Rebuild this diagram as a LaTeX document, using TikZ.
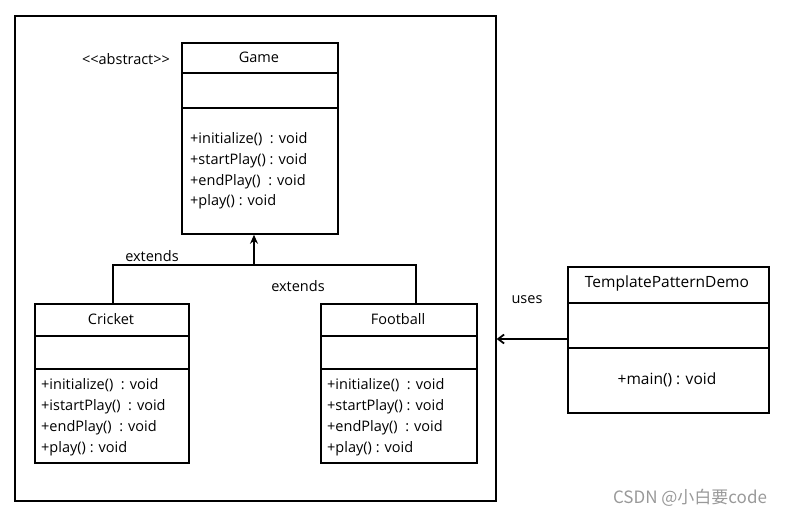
\documentclass[tikz,border=0pt]{standalone}
\usepackage{fontspec}
\setmainfont{Open Sans}
\newfontfamily\cjkfont{Noto Sans CJK SC}
\usetikzlibrary{arrows.meta}
\tikzset{
  classbox/.style={draw=black, line width=1.8pt, fill=white, anchor=north west, inner sep=0pt},
  sepline/.style={draw=black, line width=1.8pt},
  lbl/.style={font=\fontsize{14.5}{17}\selectfont, inner sep=0pt},
  meth/.style={font=\fontsize{14.5}{20.7}\selectfont, align=left, inner sep=0pt, anchor=base west},
  conn/.style={draw=black, line width=2pt},
}
\begin{document}
\begin{tikzpicture}[x=1pt,y=-1pt]
\useasboundingbox (0,0) rectangle (788,516);
% frame
\node[draw=black, line width=1.6pt, anchor=north west, minimum width=481pt, minimum height=485pt, inner sep=0pt] (frame) at (14,15) {};
% Game
\node[classbox, minimum width=156pt, minimum height=191pt] (game) at (181,42) {};
\draw[sepline] (181,73) -- (337,73);
\draw[sepline] (181,108) -- (337,108);
\node[lbl] (gamet) at (259,57) {Game};
\node[lbl] (abs) at (126,59) {{<}{<}abstract{>}{>}};
\node[meth] (gamem) at (190,206) {+initialize()\ \ : void\\+startPlay() : void\\+endPlay()\ \ : void\\+play() : void};
% Cricket
\node[classbox, minimum width=154pt, minimum height=159pt] (cricket) at (34,303) {};
\draw[sepline] (34,336) -- (188,336);
\draw[sepline] (34,369) -- (188,369);
\node[lbl] (crickett) at (111,319) {Cricket};
\node[meth] (cricketm) at (41,452) {+initialize()\ \ : void\\+istartPlay()\ \ : void\\+endPlay()\ \ : void\\+play() : void};
% Football
\node[classbox, minimum width=156pt, minimum height=159pt] (football) at (320,303) {};
\draw[sepline] (320,336) -- (476,336);
\draw[sepline] (320,369) -- (476,369);
\node[lbl] (footballt) at (398,319) {Football};
\node[meth] (footballm) at (327,452) {+initialize()\ \ : void\\+startPlay() : void\\+endPlay()\ \ : void\\+play() : void};
% TemplatePatternDemo
\node[classbox, minimum width=201pt, minimum height=146pt] (demo) at (567,266) {};
\draw[sepline] (567,303) -- (768,303);
\draw[sepline] (567,348) -- (768,348);
\node[lbl, font=\fontsize{15.5}{17}\selectfont] (demot) at (667,283) {TemplatePatternDemo};
\node[lbl, font=\fontsize{15.5}{17}\selectfont] (demom) at (667,380) {+main() : void};
% inheritance connectors
\coordinate (j) at (254,265);
\draw[conn] (cricket.north -| 113,0) |- (j);
\draw[conn] (football.north -| 416,0) |- (j);
\draw[conn, line width=2.6pt, -{Stealth[length=9pt,width=8pt]}] (j) -- (game.south -| j);
\node[lbl] (ext1) at (152,256) {extends};
\node[lbl] (ext2) at (298,286) {extends};
% uses
\draw[conn, line width=1.8pt, -{Straight Barb[length=6pt,width=9pt]}] (demo.west |- 0,339) -- (frame.east |- 0,339);
\node[lbl] (uses) at (527,300) {uses};
% watermark
\node[font=\cjkfont\fontsize{17}{19}\selectfont, text=black!40, inner sep=0pt] (wm) at (690,498) {CSDN @小白要code};
\end{tikzpicture}
\end{document}
